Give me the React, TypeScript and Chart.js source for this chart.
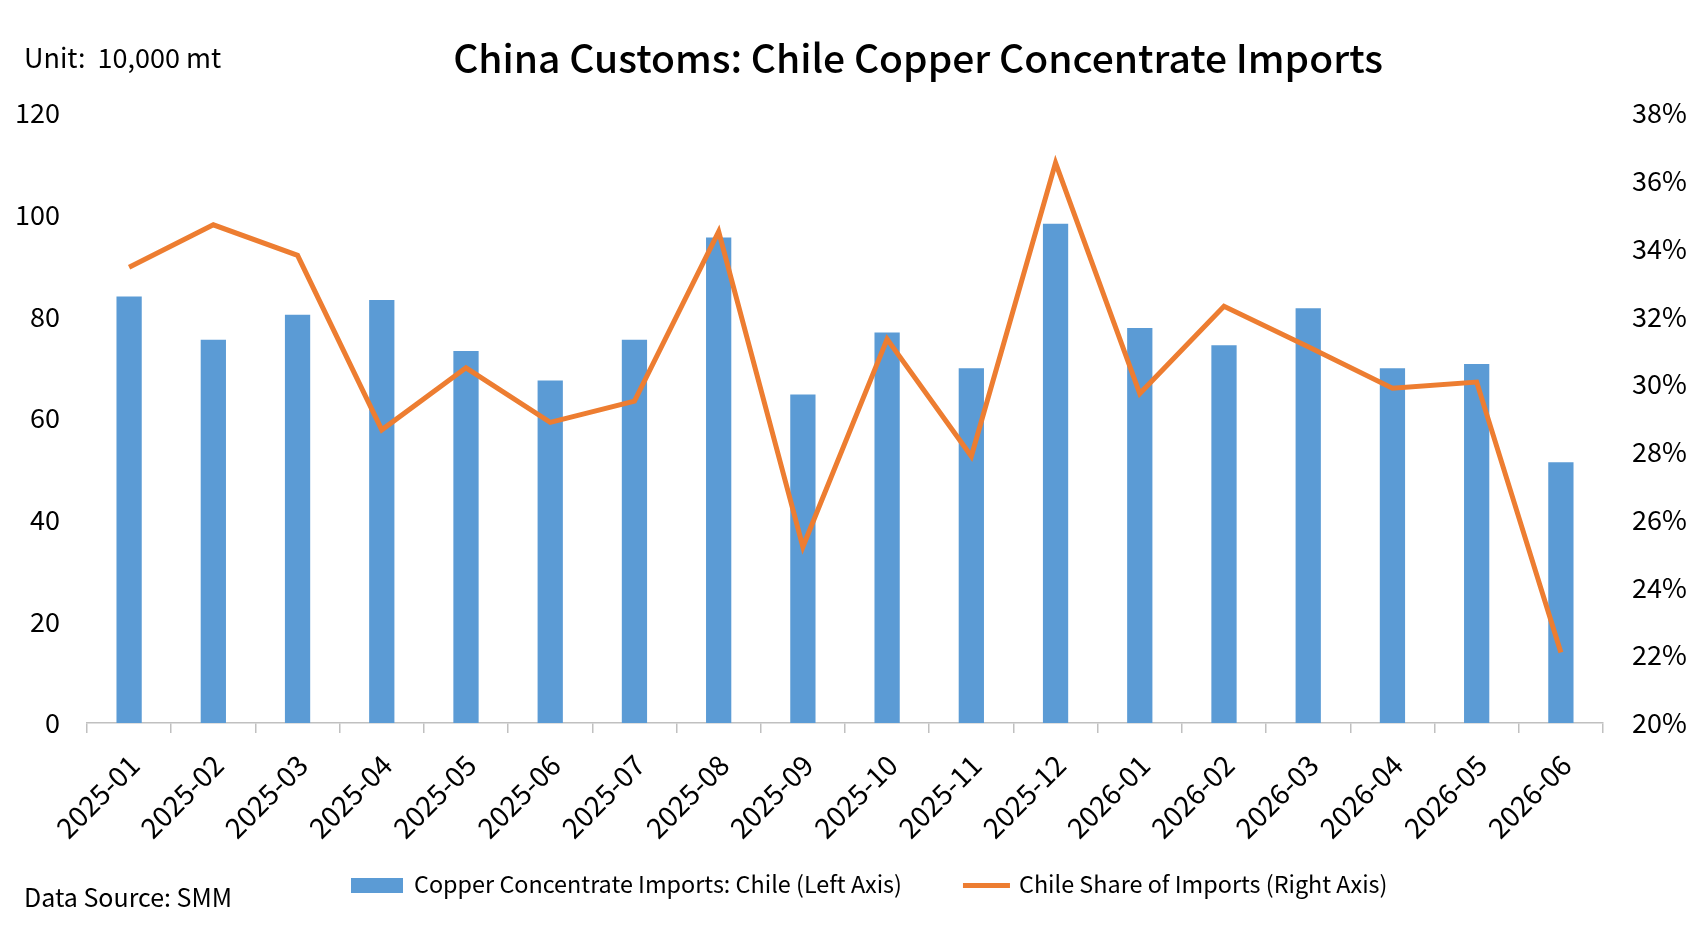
import React, { useEffect, useRef } from "react";
import { Chart, registerables } from "chart.js";

Chart.register(...registerables);

const categories = [
  "2025-01", "2025-02", "2025-03", "2025-04", "2025-05", "2025-06",
  "2025-07", "2025-08", "2025-09", "2025-10", "2025-11", "2025-12",
  "2026-01", "2026-02", "2026-03", "2026-04", "2026-05", "2026-06",
];

const importsChile = [
  83.9, 75.4, 80.3, 83.2, 73.2, 67.4,
  75.4, 95.5, 64.6, 76.8, 69.8, 98.2,
  77.7, 74.3, 81.6, 69.8, 70.6, 51.3,
];

const chileShare = [
  33.45, 34.7, 33.8, 28.65, 30.48, 28.87,
  29.5, 34.5, 25.2, 31.33, 27.87, 36.53,
  29.72, 32.3, 31.1, 29.88, 30.06, 22.08,
];

const leftTicks = [0, 20, 40, 60, 80, 100, 120];
const rightTicks = [20, 22, 24, 26, 28, 30, 32, 34, 36, 38];

const TITLE = "China Customs: Chile Copper Concentrate Imports";
const UNIT = "Unit:  10,000 mt";
const SOURCE = "Data Source: SMM";
const BAR_LABEL = "Copper Concentrate Imports: Chile (Left Axis)";
const LINE_LABEL = "Chile Share of Imports (Right Axis)";

const FONT = '"Noto Sans CJK SC", "Noto Sans", sans-serif';
const BLUE = "#5B9BD5";
const ORANGE = "#ED7D31";

const textPlugin = {
  id: "textPlugin",
  afterDraw(chart: any) {
    const ctx = chart.ctx as CanvasRenderingContext2D;
    ctx.save();
    ctx.fillStyle = "#000";
    ctx.textBaseline = "alphabetic";
    // title
    ctx.font = `500 39px ${FONT}`;
    ctx.textAlign = "center";
    ctx.fillText(TITLE, 918, 73);
    // unit
    ctx.font = `27px ${FONT}`;
    ctx.textAlign = "left";
    ctx.fillText(UNIT, 24, 68);
    // source
    ctx.font = `25px ${FONT}`;
    ctx.fillText(SOURCE, 24, 907);
    // legend
    const ds = chart.data.datasets;
    ctx.font = `23.4px ${FONT}`;
    let x = 351;
    const cy = 885.5;
    ctx.fillStyle = ds[1].backgroundColor;
    ctx.fillRect(x, cy - 7.5, 52, 15);
    x += 52 + 11;
    ctx.fillStyle = "#000";
    ctx.fillText(ds[1].label, x, 893);
    x += ctx.measureText(ds[1].label).width + 61;
    ctx.strokeStyle = ds[0].borderColor;
    ctx.lineWidth = 5;
    ctx.beginPath();
    ctx.moveTo(x, cy);
    ctx.lineTo(x + 47, cy);
    ctx.stroke();
    x += 47 + 9;
    ctx.fillText(ds[0].label, x, 893);
    ctx.restore();
  },
};

export default function App() {
  const canvasRef = useRef<HTMLCanvasElement | null>(null);

  useEffect(() => {
    if (!canvasRef.current) return;
    const chart = new Chart(canvasRef.current, {
      type: "bar",
      data: {
        labels: categories,
        datasets: [
          {
            type: "line",
            label: LINE_LABEL,
            data: chileShare,
            yAxisID: "y1",
            borderColor: ORANGE,
            backgroundColor: ORANGE,
            borderWidth: 5,
            pointRadius: 0,
            tension: 0,
            order: 0,
          } as any,
          {
            type: "bar",
            label: BAR_LABEL,
            data: importsChile,
            yAxisID: "y",
            backgroundColor: BLUE,
            barPercentage: 0.3,
            categoryPercentage: 1,
            order: 1,
          },
        ],
      },
      options: {
        animation: false,
        responsive: true,
        maintainAspectRatio: false,
        devicePixelRatio: 1,
        layout: { padding: { top: 113, left: 0, right: 0, bottom: 0 } },
        plugins: {
          legend: { display: false },
          title: { display: false },
          tooltip: { enabled: false },
        },
        scales: {
          x: {
            offset: true,
            grid: {
              display: true,
              offset: true,
              drawOnChartArea: false,
              drawTicks: true,
              tickLength: 10,
              color: "#c0c0c0",
              lineWidth: 1.5,
            },
            border: { display: true, color: "#c0c0c0", width: 1.5 },
            ticks: {
              color: "#000",
              font: { family: FONT, size: 28 },
              minRotation: 45,
              maxRotation: 45,
              autoSkip: false,
              padding: 15,
              labelOffset: 5,
            },
            afterFit: (s: any) => {
              s.height = 205;
            },
          },
          y: {
            position: "left",
            min: 0,
            max: 120,
            grid: { display: false, drawTicks: false },
            border: { display: false },
            afterBuildTicks: (s: any) => {
              s.ticks = leftTicks.map((v) => ({ value: v }));
            },
            ticks: {
              color: "#000",
              font: { family: FONT, size: 27 },
              padding: 27,
            },
            afterFit: (s: any) => {
              s.width = 87;
            },
          },
          y1: {
            position: "right",
            min: 20,
            max: 38,
            grid: { display: false, drawTicks: false },
            border: { display: false },
            afterBuildTicks: (s: any) => {
              s.ticks = rightTicks.map((v) => ({ value: v }));
            },
            ticks: {
              color: "#000",
              font: { family: FONT, size: 27 },
              padding: 29,
              callback: (v: any) => `${v}%`,
            },
            afterFit: (s: any) => {
              s.width = 92;
            },
          },
        },
      },
      plugins: [textPlugin],
    });
    return () => chart.destroy();
  }, []);

  return (
    <div
      style={{
        position: "fixed",
        left: 0,
        top: 0,
        width: 1695,
        height: 928,
        background: "#fff",
      }}
    >
      <canvas ref={canvasRef} />
    </div>
  );
}
